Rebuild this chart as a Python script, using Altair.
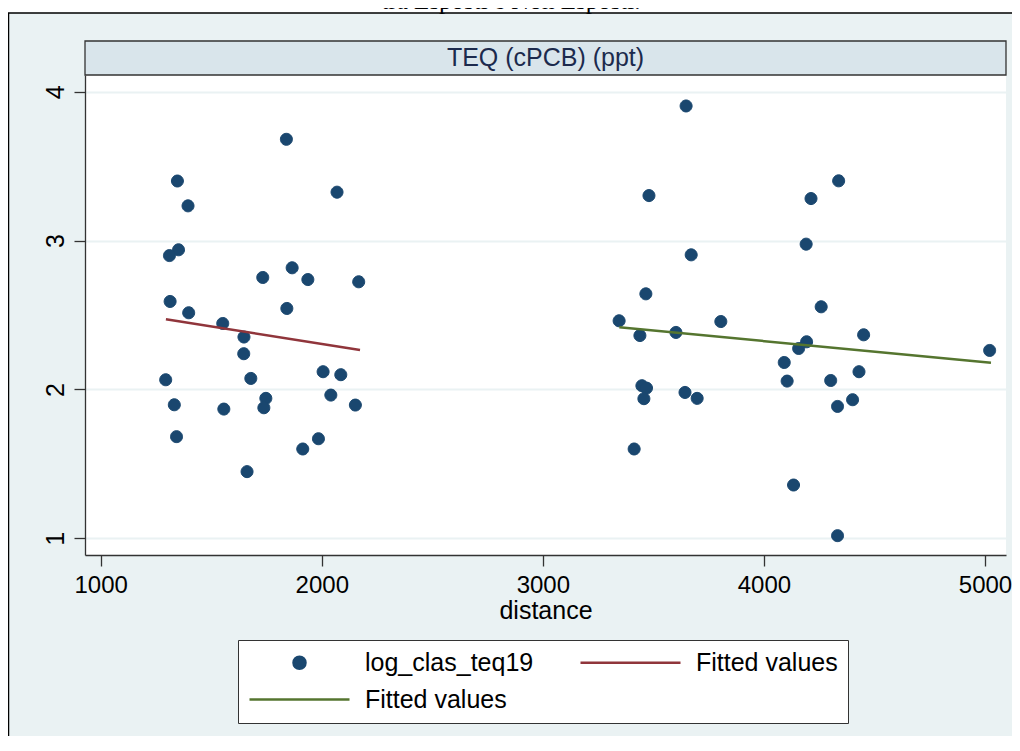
import altair as alt
import pandas as pd

# ---------------- data ----------------
left_distance = [1840, 1347, 2069, 1395, 1352, 1311, 1733, 1866, 1937, 2167,
                 1314, 1842, 1398, 1552, 1648, 1647, 1294, 1679, 2006, 2086,
                 1747, 1738, 2041, 1333, 1557, 2152, 1343, 1985, 1914, 1662]
left_teq = [3.68, 3.40, 3.325, 3.233, 2.938, 2.899, 2.752, 2.817, 2.738, 2.723,
            2.591, 2.544, 2.515, 2.443, 2.352, 2.240, 2.065, 2.074, 2.119, 2.099,
            1.940, 1.877, 1.962, 1.897, 1.868, 1.895, 1.683, 1.669, 1.600, 1.448]
right_distance = [3648, 4338, 3480, 4213, 4191, 3671, 4259, 3466, 3345, 3805,
                  3439, 3602, 4451, 4193, 4157, 5021, 4092, 4430, 4105, 4302,
                  3448, 3469, 3457, 3643, 3698, 4401, 4333, 3413, 4134, 4333]
right_teq = [3.904, 3.401, 3.302, 3.282, 2.976, 2.904, 2.555, 2.642, 2.461, 2.456,
             2.362, 2.383, 2.367, 2.320, 2.275, 2.262, 2.181, 2.119, 2.056, 2.060,
             2.025, 2.009, 1.938, 1.980, 1.940, 1.931, 1.886, 1.600, 1.358, 1.018]
fit1_distance = [1295, 2173]
fit1_teq = [2.471, 2.265]
fit2_distance = [3346, 5027]
fit2_teq = [2.417, 2.180]

x_ticks = [1000, 2000, 3000, 4000, 5000]
y_ticks = [1, 2, 3, 4]
series_keys = ["pts", "fit1", "fit2"]
series_colors = ["#1A476F", "#90353B", "#55752F"]
panel_title = "TEQ (cPCB) (ppt)"
page_title = "tra Esposti e Non Esposti."
x_title = "distance"

# ---------------- layout / style ----------------
W, H = 921, 480
FONT = "Liberation Sans"
circle_path = "M-0.12,0A0.12,0.12,0,1,1,0.12,0A0.12,0.12,0,1,1,-0.12,0Z"
stroke_path = "M-1,0L1,0"

pts = pd.DataFrame({
    "distance": left_distance + right_distance,
    "teq": left_teq + right_teq,
    "series": ["pts"] * (len(left_distance) + len(right_distance)),
})
fits = pd.DataFrame({
    "distance": fit1_distance + fit2_distance,
    "teq": fit1_teq + fit2_teq,
    "series": ["fit1"] * 2 + ["fit2"] * 2,
})
one = pd.DataFrame({"t": [panel_title], "title": [page_title]})

xs = alt.Scale(domain=[929, 5095], nice=False, zero=False)
ys = alt.Scale(domain=[0.888, 4.112], nice=False, zero=False)

legend = alt.Legend(
    title=None, orient="none", legendX=153, legendY=565, columns=2,
    direction="horizontal",
    labelExpr="datum.value == 'pts' ? 'log_clas_teq19' : 'Fitted values'",
    labelFont=FONT, labelFontSize=25, labelColor="black", labelLimit=400,
    symbolSize=10000, symbolStrokeWidth=2.5, symbolOffset=0, labelOffset=14,
    columnPadding=45, rowPadding=11, clipHeight=25, padding=10,
    fillColor="white", strokeColor="#333333",
)
fill_scale = alt.Scale(domain=series_keys, range=series_colors)
stroke_scale = alt.Scale(domain=series_keys, range=series_colors)
shape_scale = alt.Scale(domain=series_keys, range=[circle_path, stroke_path, stroke_path])

xenc = alt.X("distance:Q", scale=xs,
             axis=alt.Axis(values=x_ticks, title=x_title, grid=False, labelPadding=7,
                           labelFontSize=24,
                           titlePadding=1, titleFontWeight="normal", titleFontSize=25,
                           titleFont=FONT, titleColor="black", format="d"))
yenc = alt.Y("teq:Q", scale=ys,
             axis=alt.Axis(values=y_ticks, title=None, grid=True, labelAngle=270,
                           labelAlign="center", labelBaseline="bottom", labelPadding=6,
                           format="d"))

points = alt.Chart(pts).mark_point(size=10000, opacity=1, strokeWidth=1).encode(
    x=xenc, y=yenc,
    fill=alt.Fill("series:N", scale=fill_scale, legend=legend),
    stroke=alt.Stroke("series:N", scale=stroke_scale, legend=legend),
    shape=alt.Shape("series:N", scale=shape_scale, legend=legend),
)
lines = alt.Chart(fits).mark_line(strokeWidth=2.5).encode(
    x="distance:Q", y="teq:Q",
    stroke=alt.Stroke("series:N", scale=stroke_scale, legend=legend),
)

top_strip = alt.Chart(one).mark_rect(fill="white").encode(
    x=alt.value(-80), x2=alt.value(W + 40), y=alt.value(-70), y2=alt.value(-62))
frame = alt.Chart(one).mark_rect(fill="transparent", stroke="black", strokeWidth=1.5).encode(
    x=alt.value(-76.5), x2=alt.value(W + 60), y=alt.value(-62), y2=alt.value(H + 300))
title_txt = alt.Chart(one).mark_text(font="Liberation Serif", fontSize=25, color="black",
                                     baseline="alphabetic", align="center").encode(
    x=alt.value(426), y=alt.value(-66), text="title:N")
header = alt.Chart(one).mark_rect(fill="#D9E5EB", stroke="#333333", strokeWidth=1.3).encode(
    x=alt.value(0), x2=alt.value(W), y=alt.value(-34), y2=alt.value(0))
header_txt = alt.Chart(one).mark_text(font=FONT, fontSize=25, color="#1C2A4D",
                                      baseline="middle", align="center").encode(
    x=alt.value(W / 2), y=alt.value(-17), text="t:N")

chart = alt.layer(top_strip, frame, title_txt, header, header_txt, points, lines).properties(
    width=W, height=H,
    autosize=alt.AutoSizeParams(type="none"),
    padding={"left": 77, "top": 67, "right": 6, "bottom": 181},
).configure(
    background="#EAF2F3", font=FONT,
).configure_view(
    fill="white", stroke=None,
).configure_axis(
    domainColor="#333333", tickColor="#333333", domainWidth=1.3, tickWidth=1.3,
    tickSize=11, labelFont=FONT, labelFontSize=25, labelColor="black",
    gridColor="#EAF2F3", gridWidth=2,
)

chart.save("out.html", embed_options={"renderer": "svg", "actions": False})
